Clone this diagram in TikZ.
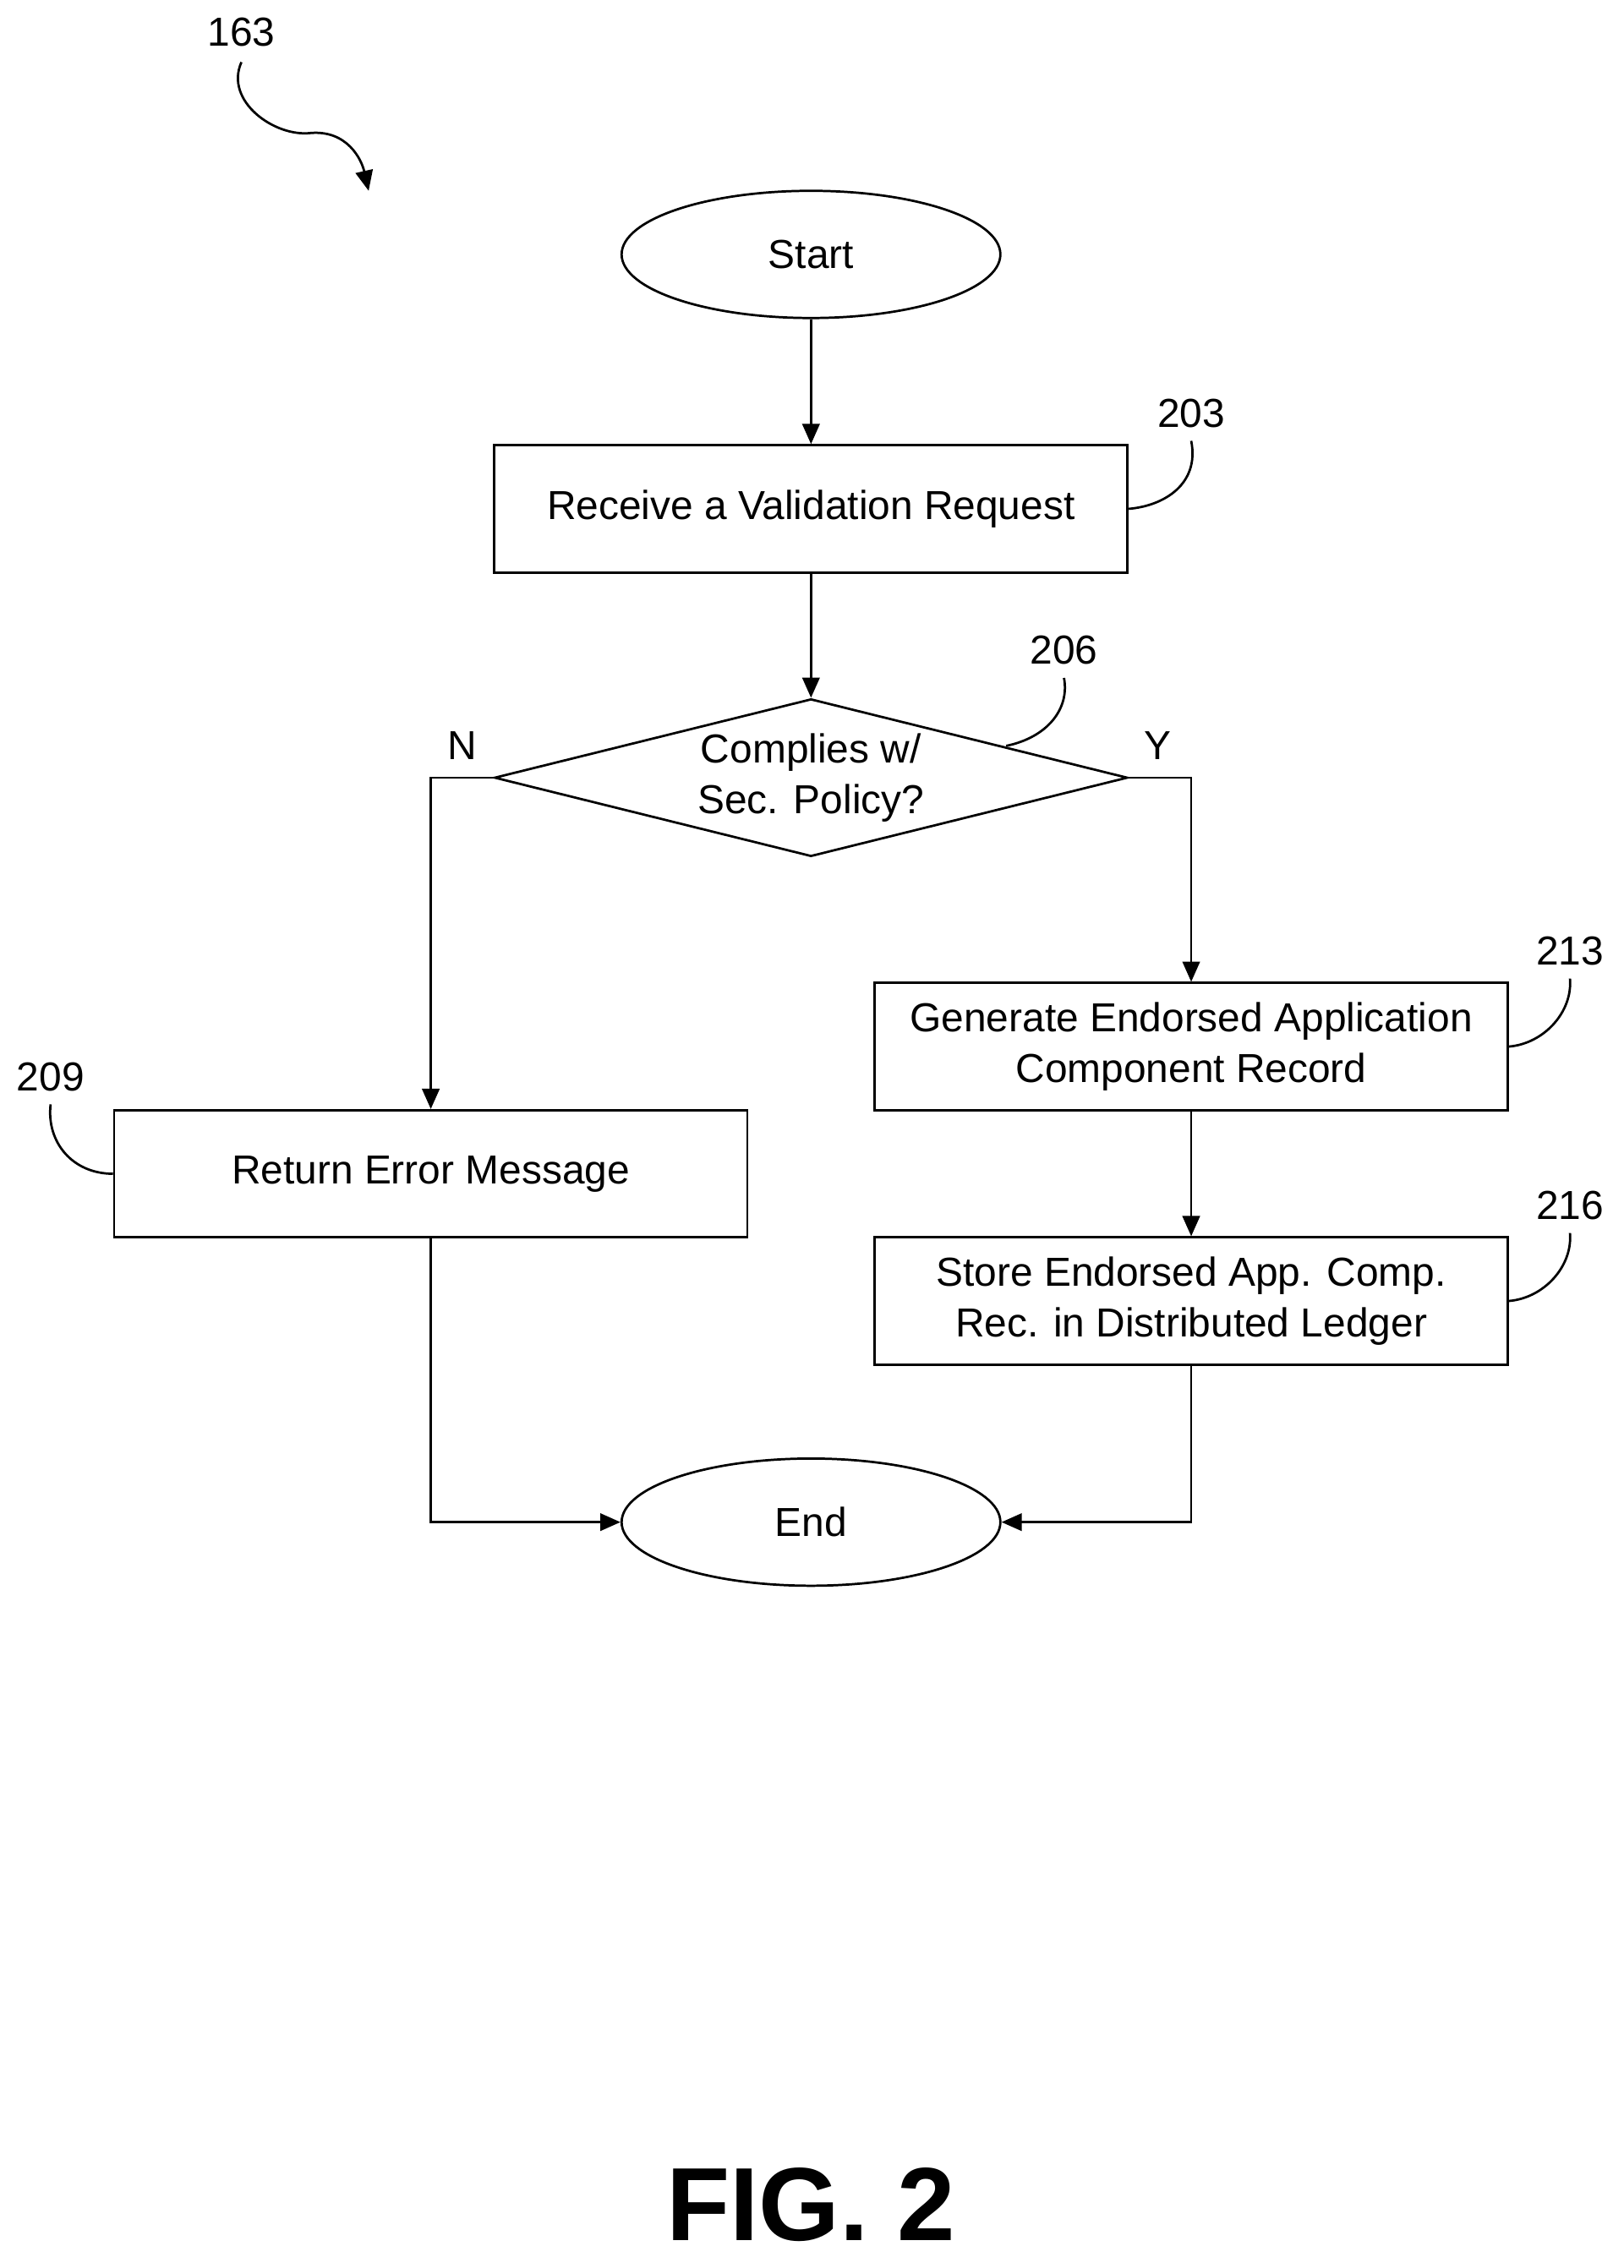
\documentclass[tikz,border=0pt]{standalone}
\usepackage{fontspec}
\setmainfont{Liberation Sans}
\usetikzlibrary{shapes.geometric,arrows.meta}
\begin{document}
\begin{tikzpicture}[x=0.5pt,y=-0.5pt,
  every node/.style={font=\fontsize{14}{17.5}\selectfont},
  box/.style={draw,line width=0.8pt,minimum width=219pt,minimum height=44pt,align=center,inner sep=0pt},
  term/.style={draw,line width=0.8pt,ellipse,minimum width=131pt,minimum height=44pt,inner sep=0pt},
  dec/.style={draw,line width=0.8pt,diamond,minimum width=219pt,minimum height=54.5pt,inner sep=0pt,align=center,aspect=4},
  arr/.style={line width=0.8pt,-{Triangle[length=7pt,width=6pt]}},
  lead/.style={line width=0.8pt}]
\useasboundingbox (0,0) rectangle (1123,1569);
\node[term] (start) at (561,176) {Start};
\node[box] (b203) at (561,352) {Receive a Validation Request};
\node[dec] (d206) at (561,538) {Complies w/\\Sec. Policy?};
\node[box] (b213) at (824,724) {Generate Endorsed Application\\Component Record};
\node[box] (b209) at (298,812) {Return Error Message};
\node[box] (b216) at (824,900) {Store Endorsed App. Comp.\\Rec. in Distributed Ledger};
\node[term] (end) at (561,1053) {End};
\node (n) at (320,516) {N};
\node (y) at (801,516) {Y};
\node (l163) at (167,22) {163};
\node (l203) at (824,286) {203};
\node (l206) at (736,450) {206};
\node (l213) at (1086,658) {213};
\node (l209) at (35,745) {209};
\node (l216) at (1086,834) {216};
\node[font=\fontsize{36}{40}\bfseries\selectfont] (fig) at (561,1525) {FIG. 2};
\coordinate (a163) at (255,132);
\draw[arr] (start) -- (b203);
\draw[arr] (b203) -- (d206);
\draw[arr] (d206.east) -- (824,538) -- (b213.north);
\draw[arr] (d206.west) -- (298,538) -- (b209.north);
\draw[arr] (b213) -- (b216);
\draw[arr] (b209.south) -- (298,1053) -- (end.west);
\draw[arr] (b216.south) -- (824,1053) -- (end.east);
\draw[arr] (l163.south) ++(0,4) .. controls (155,70) and (190,95) .. (215,92) .. controls (240,90) and (250,110) .. (a163);
\draw[lead] (b203.east) .. controls (805,350) and (830,335) .. ([yshift=-1pt]l203.south);
\draw[lead] (696,516) .. controls (725,510) and (740,490) .. ([yshift=-1pt]l206.south);
\draw[lead] (b213.east) .. controls (1068,722) and (1088,700) .. ([yshift=-1pt]l213.south);
\draw[lead] (b209.west) .. controls (50,812) and (32,790) .. ([yshift=-1pt]l209.south);
\draw[lead] (b216.east) .. controls (1068,898) and (1088,876) .. ([yshift=-1pt]l216.south);
\end{tikzpicture}
\end{document}
